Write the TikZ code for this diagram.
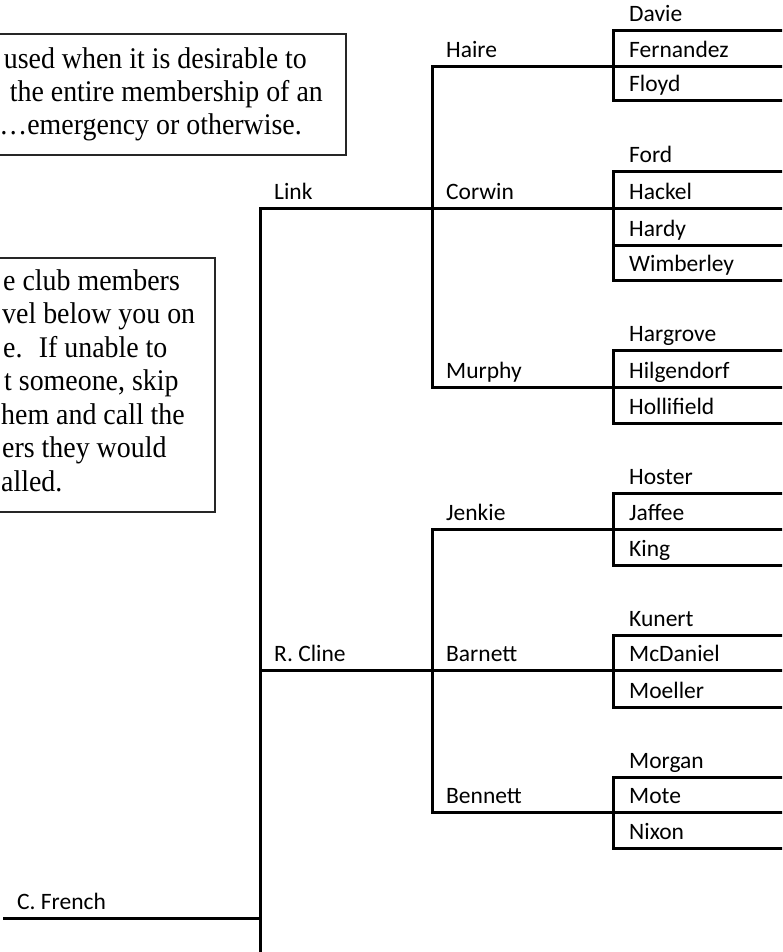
\documentclass[tikz,border=0pt]{standalone}
\usepackage{fontspec}
\setmainfont{Liberation Serif}[FakeStretch=0.93]
\newfontfamily\lblfont{Carlito}
\tikzset{
  tree/.style={line width=3pt, line cap=rect},
  lbl/.style={font=\lblfont\fontsize{23.5}{28}\selectfont, inner sep=0pt, anchor=base west},
  note/.style={font=\fontsize{30}{33}\selectfont, inner sep=0pt, anchor=base east},
  notel/.style={note, anchor=base west},
  notebox/.style={draw=black!85, line width=1.5pt}
}
\begin{document}
\begin{tikzpicture}[x=1pt,y=-1pt]
\useasboundingbox (0,0) rectangle (782,952);
\clip (0,0) rectangle (782,952);

% ---- note boxes
\draw[notebox] (-5,34) rectangle (346,155);
\node[note] (n1a) at (307,69) {used when it is desirable to};
\node[note] (n1b) at (323,102) {the entire membership of an};
\node[note] (n1c) at (302,135) {…emergency or otherwise.};

\draw[notebox] (-5,258) rectangle (215,512);
\node[notel] (n2a) at (3,290) {e club members};
\node[notel] (n2b) at (2,323.5) {vel below you on};
\node[notel] (n2c) at (3,357) {e.~ If unable to};
\node[notel] (n2d) at (4,390.5) {t someone, skip};
\node[notel] (n2e) at (1,424) {hem and call the};
\node[notel] (n2f) at (2,457.5) {ers they would};
\node[notel] (n2g) at (1,491) {alled.};

% ---- junction coordinates
\coordinate (frenchL) at (4.5,918);
\coordinate (frenchJ) at (260,918);
\coordinate (mainTop) at (260,208);
\coordinate (mainBot) at (260,960);
\coordinate (clineJ) at (260,670);
\coordinate (upTop) at (432,67);
\coordinate (upMid) at (432,208);
\coordinate (upBot) at (432,387);
\coordinate (loTop) at (432,529);
\coordinate (loMid) at (432,670);
\coordinate (loBot) at (432,812);

% ---- tree lines
\draw[tree] (frenchL) -- (frenchJ);
\draw[tree] (mainTop) -- (mainBot);
\draw[tree] (mainTop) -- (upMid) -- (790,208);
\draw[tree] (clineJ) -- (loMid) -- (790,670);
\draw[tree] (upTop) -- (upBot);
\draw[tree] (loTop) -- (loBot);
\draw[tree] (upTop) -- (790,67);
\draw[tree] (upBot) -- (790,387);
\draw[tree] (loTop) -- (790,529);
\draw[tree] (loBot) -- (790,812);

% ---- member groups (left edge + row lines)
\foreach \t/\b in {31/101, 172/280, 350/423, 493/565, 635/707, 777/848}{
  \draw[tree] (613,\t) -- (613,\b);
  \draw[tree] (613,\t) -- (790,\t);
  \draw[tree] (613,\b) -- (790,\b);
}
\draw[tree] (613,245) -- (790,245);

% ---- level labels
\node[lbl] (french) at (17,909) {C. French};
\node[lbl] (link) at (274,199) {Link};
\node[lbl] (cline) at (274,661) {R. Cline};
\node[lbl] (haire) at (446,58) {Haire};
\node[lbl] (corwin) at (446,199) {Corwin};
\node[lbl] (murphy) at (446,378) {Murphy};
\node[lbl] (jenkie) at (446,520) {Jenkie};
\node[lbl] (barnett) at (446,661) {Barnett};
\node[lbl] (bennett) at (446,803) {Bennett};

% ---- member labels
\node[lbl] (davie) at (629,22) {Davie};
\node[lbl] (fernandez) at (629,58) {Fernandez};
\node[lbl] (floyd) at (629,92) {Floyd};
\node[lbl] (ford) at (629,163) {Ford};
\node[lbl] (hackel) at (629,199) {Hackel};
\node[lbl] (hardy) at (629,236) {Hardy};
\node[lbl] (wimberley) at (629,271) {Wimberley};
\node[lbl] (hargrove) at (629,341) {Hargrove};
\node[lbl] (hilgendorf) at (629,378) {Hilgendorf};
\node[lbl] (hollifield) at (629,414) {Hollifield};
\node[lbl] (hoster) at (629,484) {Hoster};
\node[lbl] (jaffee) at (629,520) {Jaffee};
\node[lbl] (king) at (629,556) {King};
\node[lbl] (kunert) at (629,626) {Kunert};
\node[lbl] (mcdaniel) at (629,661) {McDaniel};
\node[lbl] (moeller) at (629,698) {Moeller};
\node[lbl] (morgan) at (629,768) {Morgan};
\node[lbl] (mote) at (629,803) {Mote};
\node[lbl] (nixon) at (629,839) {Nixon};
\end{tikzpicture}
\end{document}
